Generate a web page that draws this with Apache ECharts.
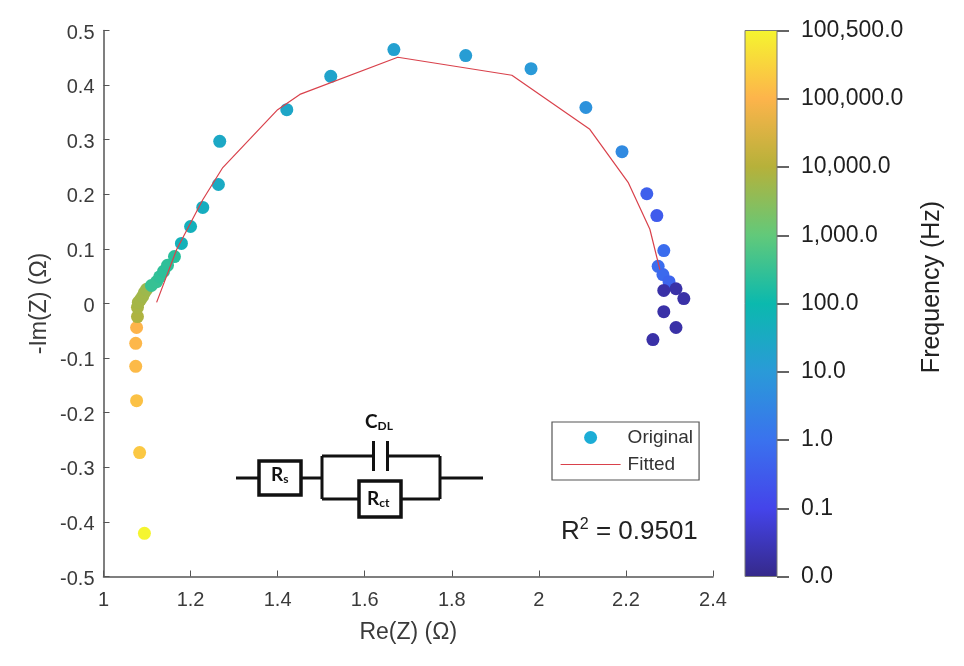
<!DOCTYPE html>
<html><head><meta charset="utf-8">
<style>html,body{margin:0;padding:0;background:#fff}#c{width:964px;height:666px}</style>
<script src="https://cdn.jsdelivr.net/npm/echarts@6/dist/echarts.min.js"></script>
</head><body><div id="c"></div>
<script>
const reZ = [1.094,1.083,1.076,1.074,1.074,1.076,1.078,1.078,1.080,1.085,1.090,1.094,1.099,1.110,1.122,1.129,1.138,1.147,1.163,1.179,1.200,1.228,1.264,1.267,1.421,1.522,1.667,1.832,1.982,2.108,2.191,2.248,2.271,2.287,2.274,2.285,2.299,2.315,2.287,2.333,2.287,2.315,2.262];
const negImZ = [-0.421,-0.273,-0.178,-0.115,-0.073,-0.044,-0.024,-0.007,0.002,0.007,0.013,0.020,0.026,0.033,0.040,0.049,0.059,0.070,0.086,0.110,0.141,0.176,0.218,0.297,0.355,0.416,0.465,0.454,0.430,0.359,0.278,0.201,0.161,0.097,0.068,0.053,0.040,0.027,0.024,0.009,-0.015,-0.044,-0.066];
const freqLevel = [8,7.3,7.2,7.1,7.05,7,5.9,5.85,5.8,5.8,5.75,5.75,5.7,4.5,4.5,4.45,4.4,4.4,4.35,3.75,3.7,3.6,3.5,3.45,3.4,3.3,3.2,3.1,3,2.8,2.6,1.6,1.5,1.9,1.9,1.8,1.7,0.3,0.3,0.3,0.3,0.3,0.3];
const fitRe = [1.122,1.168,1.228,1.274,1.400,1.451,1.676,1.938,2.117,2.205,2.255,2.278];
const fitIm = [0.002,0.099,0.190,0.249,0.355,0.383,0.451,0.418,0.319,0.222,0.136,0.062];
const colorbarLabels = ['0.0','0.1','1.0','10.0','100.0','1,000.0','10,000.0','100,000.0','100,500.0'];
const colorStops = ['#35298a','#4444ea','#3a72ee','#2a9ad8','#0bb9ae','#62c97a','#b6b13a','#fdb44b','#f5f52f'];

const axisGrey = '#555';
const labelGrey = '#3a3a3a';
const font = '"Liberation Sans", Arial, sans-serif';
const cal = 'Lato, sans-serif';
const wire = (x1,y1,x2,y2)=>({type:'line',shape:{x1,y1,x2,y2},style:{stroke:'#111',lineWidth:3}});
const box = (x,y,w,h)=>({type:'rect',shape:{x,y,width:w,height:h},style:{fill:'#fff',stroke:'#111',lineWidth:3.5},z:5});
const lab = (x,y,main,sub)=>({type:'text',x,y,z:6,style:{
  text:`{m|${main}}{s|${sub}}`,
  rich:{m:{fontFamily:cal,fontWeight:'bold',fontSize:19,fill:'#111'},
        s:{fontFamily:cal,fontWeight:'bold',fontSize:12,fill:'#111',padding:[8,0,0,0]}}}});

const chart = echarts.init(document.getElementById('c'),null,{renderer:'canvas'});
chart.setOption({
  animation:false,
  backgroundColor:'#fff',
  grid:[
    {left:103.5,top:30.5,width:609.5,height:546,show:false},
    {left:745,top:30.5,width:32,height:546,show:false}
  ],
  xAxis:[
    {type:'value',min:1,max:2.4,interval:0.2,gridIndex:0,splitLine:{show:false},
     axisLine:{onZero:false,lineStyle:{color:axisGrey,width:1.5}},
     axisTick:{inside:true,length:6,lineStyle:{color:axisGrey}},
     axisLabel:{color:labelGrey,fontSize:20,fontFamily:font,margin:14},
     name:'Re(Z) (Ω)',nameLocation:'middle',nameGap:45,
     nameTextStyle:{color:labelGrey,fontSize:23,fontFamily:font}},
    {type:'value',gridIndex:1,show:false,min:0,max:1}
  ],
  yAxis:[
    {type:'value',min:-0.5,max:0.5,interval:0.1,gridIndex:0,splitLine:{show:false},
     axisLine:{onZero:false,lineStyle:{color:axisGrey,width:1.5}},
     axisTick:{inside:true,length:6,lineStyle:{color:axisGrey}},
     axisLabel:{margin:9,formatter:(v)=>`{a|${v}}`,
       rich:{a:{color:labelGrey,fontSize:20,fontFamily:font,padding:[5,0,0,0]}}},
     name:'-Im(Z) (Ω)',nameLocation:'middle',nameGap:52,nameRotate:90,nameMoveOverlap:false,
     nameTextStyle:{color:labelGrey,fontSize:23,fontFamily:font}},
    {type:'value',min:0,max:8,interval:1,gridIndex:1,position:'right',splitLine:{show:false},
     axisLine:{show:false,onZero:false},
     axisTick:{show:true,inside:false,length:12,lineStyle:{color:'#333',width:1.5}},
     axisLabel:{color:'#1f1f1f',fontSize:23,fontFamily:font,margin:24,
       formatter:(v)=>colorbarLabels[Math.round(v)]}}
  ],
  visualMap:[{
    type:'continuous',min:0,max:8,dimension:2,seriesIndex:0,show:false,
    inRange:{color:colorStops}
  }],
  legend:{
    left:552,top:422,orient:'vertical',itemWidth:60,itemHeight:13,itemGap:8,
    padding:[6,6,6,8],borderColor:'#555',borderWidth:1.2,backgroundColor:'#fff',
    textStyle:{color:'#333',fontSize:19,fontFamily:font,padding:[0,0,0,2]},
    data:[
      {name:'Original',icon:'circle',itemStyle:{color:'#1cadd6'}},
      {name:'Fitted',itemStyle:{opacity:0},lineStyle:{color:'#d9414b',width:1.2,opacity:1}}
    ]
  },
  series:[
    {name:'Original',type:'scatter',xAxisIndex:0,yAxisIndex:0,symbolSize:13,itemStyle:{opacity:1},
     data:reZ.map((x,i)=>[x,negImZ[i],freqLevel[i]]),z:3,encode:{x:0,y:1}},
    {name:'Fitted',type:'line',xAxisIndex:0,yAxisIndex:0,showSymbol:false,symbol:'none',
     data:fitRe.map((x,i)=>[x,fitIm[i]]),z:4,color:'#d9414b',
     lineStyle:{color:'#d9414b',width:1.2}}
  ],
  graphic:[
    wire(236,478,259,478),wire(301,478,322,478),wire(322,456,322,499),
    wire(322,456,373,456),wire(387,456,440,456),wire(440,456,440,499),
    wire(322,499,359,499),wire(401,499,440,499),wire(440,478,483,478),
    wire(373.5,441,373.5,471),wire(387.5,441,387.5,471),
    box(259,461,42,34),box(359,481,42,36),
    lab(271,465,'R','s'),lab(367,489,'R','ct'),lab(365,412,'C','DL'),
    {type:'text',x:561,y:517,z:6,style:{
      text:'{a|R}{b|2}{a| = 0.9501}',
      rich:{a:{fontFamily:font,fontSize:26,fill:'#222'},
            b:{fontFamily:font,fontSize:16,fill:'#222',padding:[0,0,14,0]}}}},
    {type:'rect',x:745,y:30.5,z:10,shape:{width:32,height:546},
     style:{
       fill:new echarts.graphic.LinearGradient(0,1,0,0,colorStops.map((color,i)=>({offset:i/(colorStops.length-1),color}))),
       stroke:'#777',lineWidth:1}},
    {type:'text',x:932,y:287,rotation:Math.PI/2,z:6,style:{
      text:'Frequency (Hz)',fontFamily:font,fontSize:25,fill:'#222',align:'center',verticalAlign:'middle'}}
  ]
});
</script></body></html>
